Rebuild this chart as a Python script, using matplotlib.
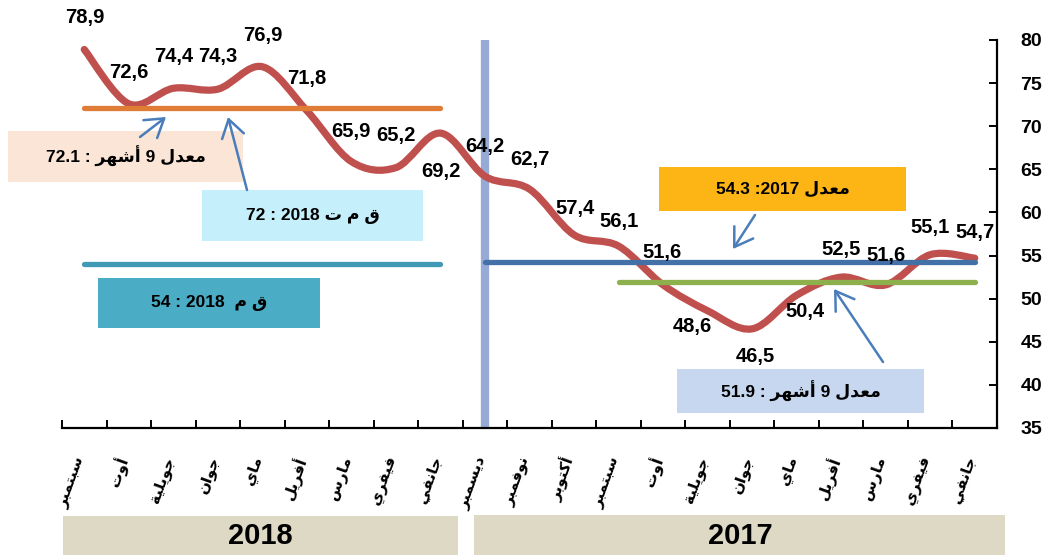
import numpy as np
import matplotlib
matplotlib.use("Agg")
import matplotlib.pyplot as plt
import matplotlib.font_manager as fm
from matplotlib.path import Path
from matplotlib.patches import PathPatch, Rectangle, FancyArrowPatch
import matplotlib.transforms as mtransforms

# ---------------- data (displayed left -> right) ----------------
months = ["سبتمبر", "أوت", "جويلية", "جوان", "ماي", "أفريل", "مارس", "فيفري", "جانفي",
          "ديسمبر", "نوفمبر", "أكتوبر", "سبتمبر", "أوت", "جويلية", "جوان", "ماي", "أفريل",
          "مارس", "فيفري", "جانفي"]
values = [78.9, 72.6, 74.4, 74.3, 76.9, 71.8, 65.9, 65.2, 69.2,
          64.2, 62.7, 57.4, 56.1, 51.6, 48.6, 46.5, 50.4, 52.5, 51.6, 55.1, 54.7]
years = ["2018", "2017"]
avg9_2018 = 72.1      # معدل 9 أشهر 2018
fc_2018_t = 72        # ق م ت 2018
fc_2018 = 54          # ق م 2018
avg_2017 = 54.3       # معدل 2017
avg9_2017 = 51.9      # معدل 9 أشهر 2017
yticks = [35, 40, 45, 50, 55, 60, 65, 70, 75, 80]

# ---------------- Arabic shaping helpers ----------------
BASE = {'ا': 0xFE8D, 'أ': 0xFE83, 'ب': 0xFE8F, 'ة': 0xFE93, 'ت': 0xFE95, 'ج': 0xFE9D,
        'د': 0xFEA9, 'ر': 0xFEAD, 'س': 0xFEB1, 'ش': 0xFEB5, 'ع': 0xFEC9, 'ف': 0xFED1,
        'ق': 0xFED5, 'ك': 0xFED9, 'ل': 0xFEDD, 'م': 0xFEE1, 'ن': 0xFEE5, 'ه': 0xFEE9,
        'و': 0xFEED, 'ي': 0xFEF1}
RIGHT_ONLY = set('اأدرةو')


def shape(s):
    out = []
    for i, c in enumerate(s):
        if c not in BASE:
            out.append(c)
            continue
        prev = s[i - 1] if i > 0 else ''
        nxt = s[i + 1] if i + 1 < len(s) else ''
        pj = prev in BASE and prev not in RIGHT_ONLY
        nj = (c not in RIGHT_ONLY) and (nxt in BASE)
        b = BASE[c]
        if pj and nj:
            cp = b + 3
        elif pj:
            cp = b + 1
        elif nj:
            cp = b + 2
        else:
            cp = b
        out.append(chr(cp))
    return ''.join(out)


def visual(s):
    r = shape(s)[::-1]
    res, run = [], []
    for ch in r:
        if ch.isdigit() or ch in '.,' or ('a' <= ch.lower() <= 'z'):
            run.append(ch)
        else:
            if run:
                res.extend(run[::-1])
                run = []
            res.append(ch)
    if run:
        res.extend(run[::-1])
    return ''.join(res)


# ---------------- fonts ----------------
_names = {f.name for f in fm.fontManager.ttflist}
if 'Liberation Sans Narrow' in _names:
    NUM_FONT = ['Liberation Sans Narrow', 'DejaVu Sans']
    LBL_FS, TICK_FS = 15.5, 15
else:
    NUM_FONT = ['Liberation Sans', 'DejaVu Sans']
    LBL_FS, TICK_FS = 14.5, 14
BOX_FONT = ['Liberation Sans', 'DejaVu Sans']
AR_FONT = ['DejaVu Sans']

# ---------------- figure ----------------
W, H = 1045, 559
fig = plt.figure(figsize=(W / 100, H / 100), dpi=100)

ax_l, ax_r, ax_t, ax_b = 62, 997, 40, 428
ax = fig.add_axes([ax_l / W, (H - ax_b) / H, (ax_r - ax_l) / W, (ax_b - ax_t) / H])
n = len(values)
x = np.arange(n)
ax.set_xlim(-0.5, n - 0.5)
ax.set_ylim(35, 80)

# vertical separator bar
ax.axvline(9, color='#95aad4', lw=6, zorder=1, solid_capstyle='butt')

# smoothed main curve (Catmull-Rom -> cubic Bezier)
pts = np.column_stack([x, values]).astype(float)
verts = [tuple(pts[0])]
codes = [Path.MOVETO]
for i in range(n - 1):
    p0 = pts[i - 1] if i > 0 else pts[i]
    p1, p2 = pts[i], pts[i + 1]
    p3 = pts[i + 2] if i + 2 < n else pts[i + 1]
    c1 = p1 + (p2 - p0) / 6.0
    c2 = p2 - (p3 - p1) / 6.0
    verts += [tuple(c1), tuple(c2), tuple(p2)]
    codes += [Path.CURVE4] * 3
ax.add_patch(PathPatch(Path(verts, codes), fill=False, edgecolor='#c0504d', lw=5.2,
                       capstyle='round', joinstyle='round', zorder=2))

# reference lines
ax.plot([0, 8], [avg9_2018, avg9_2018], color='#df7c35', lw=3.8, solid_capstyle='round', zorder=3)
ax.plot([0, 8], [fc_2018, fc_2018], color='#409ab6', lw=3.8, solid_capstyle='round', zorder=3)
ax.plot([9, 20], [avg_2017, avg_2017], color='#4470a8', lw=3.8, solid_capstyle='round', zorder=3)
ax.plot([12, 20], [avg9_2017, avg9_2017], color='#8eb04c', lw=3.8, solid_capstyle='round', zorder=3)

# data labels (pixel offsets from each point, image y downward)
offs = [(1, -32), (0, -31), (0, -32), (0, -33), (0, -31), (0, -32), (0, -30), (0, -32), (0, 38),
        (0, -30), (0, -30), (1, -26), (0, -25), (-1, -32), (-15, 16), (3, 28), (8, 16),
        (0, -28), (0, -29), (0, -27), (0, -26)]
for i, v in enumerate(values):
    dx, dy = offs[i]
    ax.annotate(f"{v:.1f}".replace('.', ','), (i, v), xytext=(dx, -dy),
                textcoords='offset pixels', ha='center', va='center',
                fontsize=LBL_FS, fontweight='bold', family=NUM_FONT, zorder=6)

# axes styling
for s in ['left', 'top']:
    ax.spines[s].set_visible(False)
for s in ['bottom', 'right']:
    ax.spines[s].set_linewidth(1.6)
ax.yaxis.tick_right()
ax.set_yticks(yticks)
ax.tick_params(axis='y', direction='in', length=6, width=1.4, pad=17, labelsize=TICK_FS)
for lab in ax.get_yticklabels():
    lab.set_fontweight('bold')
    lab.set_family(NUM_FONT)
ax.set_xticks(np.arange(-0.5, n, 1.0))
ax.set_xticklabels([])
ax.tick_params(axis='x', which='major', direction='in', length=6, width=1.4)
ax.set_xticks(x, minor=True)
ax.set_xticklabels([visual(m) for m in months], minor=True, rotation=70,
                   ha='right', va='top', family=AR_FONT, fontweight='bold', fontsize=11)
ax.tick_params(axis='x', which='minor', length=0, pad=19)
shift = mtransforms.ScaledTranslation(4 / 100, 0, fig.dpi_scale_trans)
for lab in ax.get_xticklabels(minor=True):
    lab.set_transform(lab.get_transform() + shift)


# ---------------- boxes, arrows, year bands (pixel layout) ----------------
def fbox(x0, y0, x1, y1, color, text, fs=12.5):
    fig.patches.append(Rectangle((x0 / W, 1 - y1 / H), (x1 - x0) / W, (y1 - y0) / H,
                                 transform=fig.transFigure, facecolor=color,
                                 edgecolor='none', zorder=0))
    if text:
        fig.text((x0 + x1) / 2 / W, 1 - (y0 + y1) / 2 / H, text, ha='center', va='center',
                 fontsize=fs, fontweight='bold', family=BOX_FONT)


fbox(8, 131, 243, 182, '#fbe5d6', visual(f"معدل 9 أشهر : {avg9_2018}"))
fbox(202, 190, 423, 241, '#c6effc', visual(f"ق م ت 2018 : {fc_2018_t}"))
fbox(98, 278, 320, 328, '#4bacc6', visual(f"ق م  2018 : {fc_2018}"))
fbox(659, 167, 906, 211, '#fdb515', visual(f"معدل 2017: {avg_2017}"))
fbox(677, 369, 924, 413, '#c6d7ef', visual(f"معدل 9 أشهر : {avg9_2017}"))

fbox(63, 516, 458, 555, '#ddd9c4', None)
fbox(474, 515, 1005, 555, '#ddd9c4', None)
fig.text(260 / W, 1 - 536 / H, years[0], ha='center', va='center', fontsize=21,
         fontweight='bold', family=BOX_FONT)
fig.text(740 / W, 1 - 536 / H, years[1], ha='center', va='center', fontsize=21,
         fontweight='bold', family=BOX_FONT)

arrows = [((140, 137), (166, 117)), ((247, 190), (228, 117)),
          ((755, 215), (733, 249)), ((883, 362), (834, 289))]
for (tx, ty), (hx, hy) in arrows:
    fig.add_artist(FancyArrowPatch(
        (tx / W, 1 - ty / H), (hx / W, 1 - hy / H), transform=fig.transFigure,
        arrowstyle='->,head_length=0.7,head_width=0.45', mutation_scale=18,
        color='#4a7ebb', lw=1.8, zorder=7, shrinkA=0, shrinkB=0))

fig.savefig('out.png', dpi=100)
